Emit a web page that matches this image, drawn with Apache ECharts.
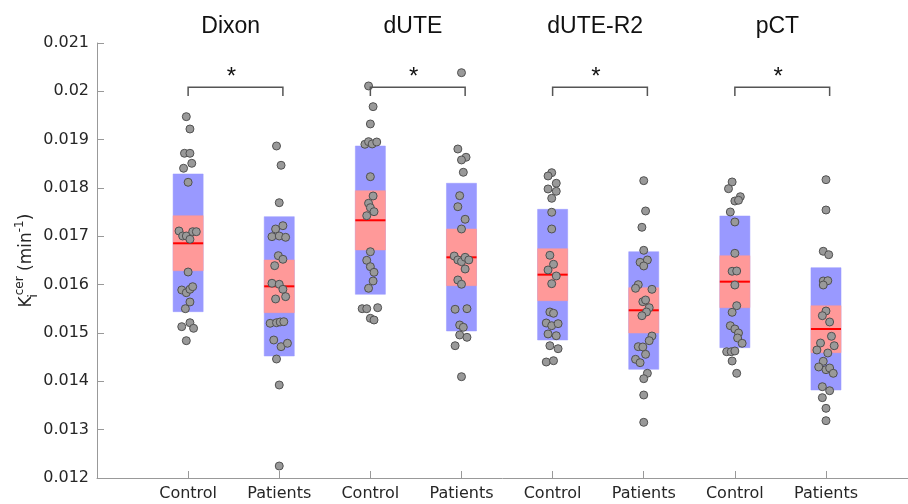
<!DOCTYPE html>
<html>
<head>
<meta charset="utf-8">
<script src="https://cdn.jsdelivr.net/npm/echarts@6/dist/echarts.min.js"></script>
<style>
  html, body { margin: 0; padding: 0; background: #fff; }
  #chart { width: 908px; height: 504px; }
</style>
</head>
<body>
<div id="chart"></div>
<script>
// groups and x labels
const methods = ['Dixon', 'dUTE', 'dUTE-R2', 'pCT']
const xLabels = ['Control', 'Patients', 'Control', 'Patients', 'Control', 'Patients', 'Control', 'Patients']

// mean, +-SD (blue) and +-SEM (red) per box, in xLabels order
const means = [0.016856, 0.015966, 0.017332, 0.016566, 0.016207, 0.015470, 0.016062, 0.015083]
const sdLow = [0.015441, 0.014524, 0.015801, 0.015042, 0.014855, 0.014249, 0.014696, 0.013821]
const sdHigh = [0.018290, 0.017407, 0.018869, 0.018098, 0.017559, 0.016682, 0.017421, 0.016351]
const semLow = [0.016289, 0.015421, 0.016718, 0.015979, 0.015669, 0.015000, 0.015524, 0.014593]
const semHigh = [0.017427, 0.016511, 0.017945, 0.017152, 0.016745, 0.015938, 0.016600, 0.015565]

// individual subjects (value) and their horizontal jitter (category units)
const dixonControl = [0.019476, 0.019221, 0.018718, 0.018718, 0.018511, 0.018408, 0.018118, 0.017111, 0.017007, 0.017007, 0.017096, 0.017096, 0.016939, 0.016262, 0.015890, 0.015834, 0.015904, 0.015958, 0.015642, 0.015503, 0.015131, 0.015213, 0.015097, 0.014841]
const dixonControlJit = [-0.02, 0.02, -0.04, 0.02, 0.04, -0.05, 0.00, -0.10, -0.06, -0.02, 0.05, 0.09, 0.02, 0.00, -0.07, -0.02, 0.02, 0.05, 0.02, -0.03, -0.07, 0.02, 0.06, -0.02]
const dixonPatients = [0.018869, 0.018470, 0.017696, 0.017220, 0.017152, 0.016993, 0.017007, 0.016980, 0.016600, 0.016525, 0.016393, 0.016029, 0.016008, 0.015904, 0.015752, 0.015704, 0.015201, 0.015213, 0.015228, 0.015234, 0.014855, 0.014717, 0.014787, 0.014462, 0.013924, 0.012248]
const dixonPatientsJit = [-0.03, 0.02, 0.00, 0.04, -0.04, -0.08, 0.00, 0.07, -0.01, 0.04, -0.05, -0.08, 0.00, 0.04, 0.07, -0.04, -0.10, -0.03, 0.01, 0.05, -0.06, 0.02, 0.09, -0.03, 0.00, 0.00]
const duteControl = [0.020111, 0.019683, 0.019325, 0.018904, 0.018959, 0.018911, 0.018952, 0.018234, 0.017835, 0.017684, 0.017593, 0.017510, 0.017427, 0.016682, 0.016504, 0.016372, 0.016256, 0.016076, 0.015925, 0.015503, 0.015503, 0.015524, 0.015304, 0.015269]
const duteControlJit = [-0.02, 0.03, 0.00, -0.06, -0.02, 0.02, 0.07, 0.00, 0.03, -0.02, 0.00, 0.04, -0.04, 0.00, -0.04, 0.00, 0.04, 0.03, -0.02, -0.09, -0.04, 0.08, 0.00, 0.04]
const dutePatients = [0.020386, 0.018807, 0.018636, 0.018580, 0.018325, 0.017841, 0.017613, 0.017353, 0.017152, 0.016593, 0.016511, 0.016476, 0.016566, 0.016511, 0.016324, 0.016097, 0.016008, 0.015491, 0.015503, 0.015166, 0.015118, 0.014959, 0.014911, 0.014737, 0.014096]
const dutePatientsJit = [0.00, -0.04, 0.05, 0.00, 0.02, -0.02, -0.04, 0.04, 0.00, -0.08, -0.04, 0.00, 0.04, 0.08, 0.04, -0.04, 0.00, -0.07, 0.06, -0.02, 0.02, -0.02, 0.06, -0.07, 0.00]
const r2Control = [0.018317, 0.018249, 0.018098, 0.017980, 0.017932, 0.017787, 0.017498, 0.017152, 0.016608, 0.016422, 0.016304, 0.016180, 0.016020, 0.015435, 0.015408, 0.015207, 0.015151, 0.015193, 0.014980, 0.014944, 0.014737, 0.014675, 0.014400, 0.014427]
const r2ControlJit = [-0.01, -0.05, 0.04, -0.05, 0.04, -0.01, -0.01, -0.01, -0.03, 0.01, -0.05, 0.04, -0.01, -0.03, 0.01, -0.07, -0.01, 0.06, -0.05, 0.04, -0.03, 0.06, -0.07, 0.01]
const r2Patients = [0.018152, 0.017525, 0.017187, 0.016711, 0.016463, 0.016511, 0.016387, 0.016000, 0.015925, 0.015904, 0.015648, 0.015683, 0.015524, 0.015435, 0.015358, 0.014938, 0.014841, 0.014717, 0.014711, 0.014559, 0.014456, 0.014386, 0.014166, 0.014055, 0.013717, 0.013152]
const r2PatientsJit = [0.00, 0.02, -0.02, 0.00, -0.04, 0.04, 0.00, -0.06, -0.09, 0.09, -0.01, 0.02, 0.06, 0.03, -0.02, 0.09, 0.06, -0.06, -0.01, 0.02, -0.09, -0.04, 0.04, 0.00, 0.00, 0.00]
const pctControl = [0.018125, 0.017986, 0.017820, 0.017731, 0.017746, 0.017504, 0.017297, 0.016649, 0.016277, 0.016283, 0.015993, 0.015565, 0.015428, 0.015151, 0.015083, 0.015000, 0.014897, 0.014787, 0.014613, 0.014613, 0.014628, 0.014421, 0.014166]
const pctControlJit = [-0.03, -0.07, 0.06, 0.00, 0.04, -0.05, 0.00, 0.00, -0.03, 0.02, 0.00, 0.02, -0.03, -0.05, 0.00, 0.04, 0.03, 0.08, -0.09, -0.04, 0.00, -0.03, 0.02]
const pctPatients = [0.018172, 0.017545, 0.016691, 0.016620, 0.016076, 0.016082, 0.015993, 0.015455, 0.015358, 0.015228, 0.014932, 0.014793, 0.014737, 0.014648, 0.014586, 0.014415, 0.014297, 0.014241, 0.014276, 0.014166, 0.013889, 0.013806, 0.013662, 0.013442, 0.013186]
const pctPatientsJit = [0.00, 0.00, -0.03, 0.03, -0.03, 0.02, -0.03, 0.00, -0.04, 0.04, 0.06, -0.06, 0.09, -0.10, 0.02, -0.03, -0.08, 0.00, 0.04, 0.08, -0.04, 0.04, -0.04, 0.00, 0.00]

// significance brackets: [left x, right x, bar value, end value]
const brackets = [[1, 2.04, 0.020084, 0.019904], [3, 4.04, 0.020084, 0.019904], [5, 6.04, 0.020084, 0.019904], [7, 8.04, 0.020084, 0.019904]]
const sigLabel = '*'

const pointSets = [
  [dixonControl, dixonControlJit], [dixonPatients, dixonPatientsJit],
  [duteControl, duteControlJit], [dutePatients, dutePatientsJit],
  [r2Control, r2ControlJit], [r2Patients, r2PatientsJit],
  [pctControl, pctControlJit], [pctPatients, pctPatientsJit]
]

const scatterData = []
pointSets.forEach(([vals, jit], i) => {
  vals.forEach((v, k) => scatterData.push([i + 1 + jit[k], v]))
})

const BOX_W = 0.33

function rectItem(color) {
  return function(params, api) {
    const x = api.value(0)
    const p1 = api.coord([x - BOX_W / 2, api.value(2)])
    const p2 = api.coord([x + BOX_W / 2, api.value(1)])
    return {
      type: 'rect',
      shape: { x: p1[0], y: p1[1], width: p2[0] - p1[0], height: p2[1] - p1[1] },
      style: { fill: color, stroke: color, lineWidth: 0.5 }
    }
  }
}

const chart = echarts.init(document.getElementById('chart'), null, { renderer: 'canvas' })

chart.setOption({
  animation: false,
  grid: { left: 97, right: 0, top: 43, bottom: 26 },
  xAxis: {
    type: 'value',
    min: 0,
    max: 8.9,
    interval: 1,
    splitLine: { show: false },
    axisLine: { lineStyle: { color: '#999', width: 1 } },
    axisTick: { inside: true, length: 7, lineStyle: { color: '#999' } },
    axisLabel: {
      color: '#262626',
      fontFamily: 'DejaVu Sans',
      fontSize: 16,
      margin: 8,
      showMinLabel: false,
      showMaxLabel: false,
      formatter: v => (Number.isInteger(v) && v >= 1 && v <= 8) ? xLabels[v - 1] : ''
    }
  },
  yAxis: {
    type: 'value',
    min: 0.012,
    max: 0.021,
    interval: 0.001,
    splitLine: { show: false },
    axisLine: { show: true, lineStyle: { color: '#999', width: 1 } },
    axisTick: { show: true, inside: true, length: 7, lineStyle: { color: '#999' } },
    axisLabel: {
      color: '#262626',
      fontFamily: 'DejaVu Sans',
      fontSize: 16,
      margin: 8,
      formatter: v => String(parseFloat(v.toFixed(3)))
    },
    name: '{k|K}{i|i}{c|cer}{k| (min}{c|-1}{k|)}',
    nameLocation: 'middle',
    nameRotate: 90,
    nameGap: 57,
    nameMoveOverlap: false,
    nameTextStyle: {
      rich: {
        k: { fontFamily: 'DejaVu Sans', fontSize: 17, color: '#262626', lineHeight: 26, verticalAlign: 'middle' },
        i: { fontFamily: 'DejaVu Sans', fontSize: 12, color: '#262626', lineHeight: 12, verticalAlign: 'bottom', width: 1 },
        c: { fontFamily: 'DejaVu Sans', fontSize: 12, color: '#262626', lineHeight: 12, verticalAlign: 'top' }
      }
    }
  },
  series: [
    {
      name: 'sd',
      type: 'custom',
      renderItem: rectItem('#9999ff'),
      encode: { x: 0, y: [1, 2] },
      data: means.map((m, i) => [i + 1, sdLow[i], sdHigh[i]]),
      z: 1
    },
    {
      name: 'sem',
      type: 'custom',
      renderItem: rectItem('#ff9999'),
      encode: { x: 0, y: [1, 2] },
      data: means.map((m, i) => [i + 1, semLow[i], semHigh[i]]),
      z: 2
    },
    {
      name: 'mean',
      type: 'custom',
      renderItem(params, api) {
        const x = api.value(0)
        const a = api.coord([x - BOX_W / 2, api.value(1)])
        const b = api.coord([x + BOX_W / 2, api.value(1)])
        return {
          type: 'line',
          shape: { x1: a[0], y1: a[1], x2: b[0], y2: b[1] },
          style: { stroke: '#ff0000', lineWidth: 2 }
        }
      },
      encode: { x: 0, y: 1 },
      data: means.map((m, i) => [i + 1, m]),
      z: 3
    },
    {
      name: 'subjects',
      type: 'scatter',
      data: scatterData,
      symbolSize: 8,
      itemStyle: { color: '#999999', borderColor: '#505050', borderWidth: 1, opacity: 1 },
      z: 4
    },
    {
      name: 'brackets',
      type: 'custom',
      clip: false,
      renderItem(params, api) {
        const l = api.coord([api.value(0), api.value(2)])
        const r = api.coord([api.value(1), api.value(2)])
        const le = api.coord([api.value(0), api.value(3)])
        const re = api.coord([api.value(1), api.value(3)])
        return {
          type: 'group',
          children: [
            {
              type: 'polyline',
              shape: { points: [le, l, r, re] },
              style: { stroke: '#555', lineWidth: 1.5, fill: null }
            },
            {
              type: 'text',
              style: {
                text: sigLabel,
                x: (l[0] + r[0]) / 2 - 4,
                y: l[1] + 2,
                align: 'center',
                verticalAlign: 'bottom',
                font: '24px "Liberation Sans"',
                fill: '#111'
              }
            }
          ]
        }
      },
      encode: { x: [0, 1], y: [2, 3] },
      data: brackets,
      z: 5
    },
    {
      name: 'methods',
      type: 'custom',
      clip: false,
      renderItem(params, api) {
        const p = api.coord([api.value(0), 0.021])
        return {
          type: 'text',
          style: {
            text: methods[params.dataIndex],
            x: p[0] - 3,
            y: p[1] - 16,
            align: 'center',
            verticalAlign: 'middle',
            font: '23px "Liberation Sans"',
            fill: '#111'
          }
        }
      },
      encode: { x: 0 },
      data: methods.map((m, i) => [2 * i + 1.5]),
      z: 5
    }
  ]
})
</script>
</body>
</html>
